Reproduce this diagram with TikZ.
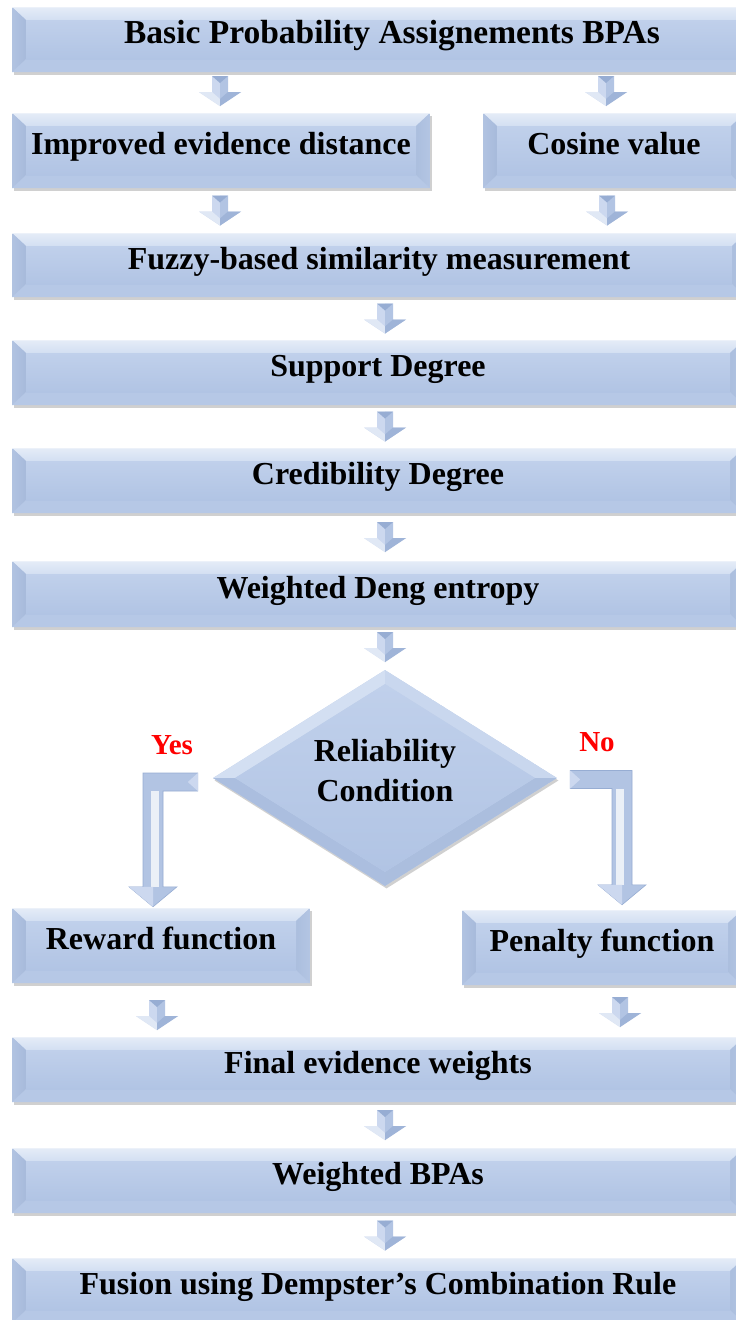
\documentclass[tikz,border=0pt]{standalone}
\usepackage{fontspec}
\setmainfont{Liberation Serif}
\usetikzlibrary{shapes.geometric,calc,shadows}

\definecolor{bxtopc}{HTML}{C0D0EB}
\definecolor{bxbotc}{HTML}{B1C4E4}
\definecolor{bxtop}{HTML}{D3DFF2}
\definecolor{bxbot}{HTML}{B6C8E6}
\definecolor{bxleft}{HTML}{A7BADB}
\definecolor{bxright}{HTML}{ABBEDE}
\definecolor{arlight}{HTML}{CCD8EF}
\definecolor{armid}{HTML}{B2C4E3}
\definecolor{ardark}{HTML}{97ADD3}
\definecolor{yesno}{HTML}{FF0000}

\newcommand\bvx{14pt}
\newcommand\bvy{13pt}
% bevelled faces drawn inside the current node outline
\newcommand\bevelfaces{%
  \coordinate (bvSW) at (path picture bounding box.south west);
  \coordinate (bvNE) at (path picture bounding box.north east);
  \coordinate (bvNW) at (path picture bounding box.north west);
  \coordinate (bvSE) at (path picture bounding box.south east);
  \shade[top color=bxtop!60!white, bottom color=bxtop] (bvNW) -- (bvNE) -- ([xshift=-\bvx,yshift=-\bvy]bvNE) -- ([xshift=\bvx,yshift=-\bvy]bvNW) -- cycle;
  \fill[bxbot] (bvSW) -- (bvSE) -- ([xshift=-\bvx,yshift=\bvy]bvSE) -- ([xshift=\bvx,yshift=\bvy]bvSW) -- cycle;
  \shade[left color=bxleft!60!bxtopc, right color=bxleft] (bvNW) -- ([xshift=\bvx,yshift=-\bvy]bvNW) -- ([xshift=\bvx,yshift=\bvy]bvSW) -- (bvSW) -- cycle;
  \shade[left color=bxright, right color=bxright!60!bxtopc] (bvNE) -- ([xshift=-\bvx,yshift=-\bvy]bvNE) -- ([xshift=-\bvx,yshift=\bvy]bvSE) -- (bvSE) -- cycle;
  \shade[top color=bxtopc, bottom color=bxbotc] ([xshift=\bvx,yshift=-\bvy]bvNW) rectangle ([xshift=-\bvx,yshift=\bvy]bvSE);
  \draw[white!70!bxtopc, line width=1pt] (bvNW) -- (bvNE);
}
% bevelled faces of the decision diamond
\newcommand\diamondfaces{%
  \coordinate (dmN) at (path picture bounding box.north);
  \coordinate (dmS) at (path picture bounding box.south);
  \coordinate (dmW) at (path picture bounding box.west);
  \coordinate (dmE) at (path picture bounding box.east);
  \coordinate (dmn) at ([yshift=-14pt]dmN);
  \coordinate (dms) at ([yshift=14pt]dmS);
  \coordinate (dmw) at ([xshift=22pt]dmW);
  \coordinate (dme) at ([xshift=-22pt]dmE);
  \fill[bxtop] (dmW) -- (dmN) -- (dmn) -- (dmw) -- cycle;
  \fill[bxtop!50!bxtopc] (dmN) -- (dmE) -- (dme) -- (dmn) -- cycle;
  \fill[bxright] (dmE) -- (dmS) -- (dms) -- (dme) -- cycle;
  \fill[bxleft!60!bxbotc] (dmS) -- (dmW) -- (dmw) -- (dms) -- cycle;
  \shade[top color=bxtopc, bottom color=bxbotc] (dmn) -- (dme) -- (dms) -- (dmw) -- cycle;
}

\tikzset{
  bevelbox/.style={rectangle, inner sep=0pt, fill=bxtopc,
    font=\bfseries\fontsize{32}{38}\selectfont, text height=22pt, text depth=14pt,
    drop shadow={shadow xshift=1.5pt, shadow yshift=-2.5pt, opacity=0.3, fill=black!60},
    path picture={\bevelfaces}},
  condbox/.style={diamond, inner sep=0pt, fill=bxtopc,
    minimum width=344pt, minimum height=216pt,
    drop shadow={shadow xshift=1.5pt, shadow yshift=-2.5pt, opacity=0.3, fill=black!60},
    path picture={\diamondfaces}},
  condtxt/.style={font=\bfseries\fontsize{32}{40}\selectfont, align=center, inner sep=0pt},
  branchlbl/.style={font=\bfseries\fontsize{29}{32}\selectfont, text=yesno, inner sep=0pt,
    text height=19pt, text depth=0pt},
  bendfill/.style={fill=armid, draw=ardark, line width=0.6pt, line join=miter},
  blockarrow/.pic={
    \fill[arlight] (-8,-15) -- (0,-15) -- (0,15) -- (-21,1) -- (-8,1) -- cycle;
    \fill[armid] (0,-15) -- (8,-15) -- (8,1) -- (21,1) -- (0,15) -- cycle;
    \fill[ardark] (-8,-15) -- (8,-15) -- (0,-8) -- cycle;
    \fill[arlight!60!white] (-21,1) -- (-8,1) -- (0,8) -- (0,15) -- cycle;
    \fill[ardark!70!armid] (21,1) -- (8,1) -- (0,8) -- (0,15) -- cycle;
  }
}

\begin{document}
\begin{tikzpicture}[x=1pt, y=-1pt]
\fill[white] (0,0) rectangle (736,1320);
\useasboundingbox (0,0) rectangle (736,1320);

% process boxes
\node[bevelbox, minimum width=760pt, minimum height=65pt, font=\bfseries\fontsize{33.5}{38}\selectfont] (b1) at (392,39.5) {Basic Probability Assignements BPAs};
\node[bevelbox, minimum width=418pt, minimum height=75pt] (b2a) at (221,150.5) {Improved evidence distance};
\node[bevelbox, minimum width=262pt, minimum height=75pt] (b2b) at (614,150.5) {Cosine value};
\node[bevelbox, minimum width=734pt, minimum height=64pt] (b3) at (379,265) {Fuzzy-based similarity measurement};
\node[bevelbox, minimum width=732pt, minimum height=65pt] (b4) at (378,372.5) {Support Degree};
\node[bevelbox, minimum width=732pt, minimum height=65pt] (b5) at (378,480.5) {Credibility Degree};
\node[bevelbox, minimum width=732pt, minimum height=66pt] (b6) at (378,594) {Weighted Deng entropy};

% decision
\node[condbox] (cond) at (385,778) {};
\node[condtxt] (condtext) at (385,771) {Reliability\\Condition};
\node[branchlbl] (yes) at (172,744.5) {Yes};
\node[branchlbl] (no) at (597,741.5) {No};

\node[bevelbox, minimum width=298pt, minimum height=75pt] (rew) at (161,945.5) {Reward function};
\node[bevelbox, minimum width=280pt, minimum height=75pt] (pen) at (602,947.5) {Penalty function};
\node[bevelbox, minimum width=732pt, minimum height=65pt] (fin) at (378,1069.5) {Final evidence weights};
\node[bevelbox, minimum width=732pt, minimum height=65pt] (wb) at (378,1180.5) {Weighted BPAs};
\node[bevelbox, minimum width=732pt, minimum height=65pt] (fus) at (378,1290.5) {Fusion using Dempster’s Combination Rule};

% block arrows between the boxes
\pic at ($(b1.south -| b2a.north)!0.5!(b2a.north)+(-1,-1.5)$) {blockarrow};
\pic at ($(b1.south -| b2b.north)!0.5!(b2b.north)+(-8,-1.5)$) {blockarrow};
\pic at ($(b2a.south)!0.5!(b3.north -| b2a.south)+(-1,0)$) {blockarrow};
\pic at ($(b2b.south)!0.5!(b3.north -| b2b.south)+(-7,0)$) {blockarrow};
\pic at ($(b3.south -| cond)!0.5!(b4.north -| cond)$) {blockarrow};
\pic at ($(b4.south -| cond)!0.5!(b5.north -| cond)$) {blockarrow};
\pic at ($(b5.south -| cond)!0.5!(b6.north -| cond)$) {blockarrow};
\pic at ($(b6.south -| cond)!0.5!(cond.north)+(0,-1.5)$) {blockarrow};
\pic at ($(rew.south)!0.5!(fin.north -| rew.south)+(-4,5)$) {blockarrow};
\pic at ($(pen.south)!0.5!(fin.north -| pen.south)+(18,1)$) {blockarrow};
\pic at ($(fin.south -| cond)!0.5!(wb.north -| cond)$) {blockarrow};
\pic at ($(wb.south -| cond)!0.5!(fus.north -| cond)$) {blockarrow};

% bent arrow to the reward branch
\path[bendfill] let \p1=([xshift=-15pt,yshift=-4pt]cond.west), \p2=([xshift=-8pt,yshift=1pt]rew.north) in
  (\x1,{\y1+9pt}) -- ({\x2-10pt},{\y1+9pt}) -- ({\x2-10pt},{\y2+20pt}) -- ({\x2-24pt},{\y2+20pt})
  -- (\x2,\y2) -- ({\x2+24pt},{\y2+20pt}) -- ({\x2+10pt},{\y2+20pt}) -- ({\x2+10pt},{\y1-9pt})
  -- (\x1,{\y1-9pt}) -- cycle;
\fill[white, opacity=0.75] let \p1=([xshift=-15pt,yshift=-4pt]cond.west), \p2=([xshift=-8pt,yshift=1pt]rew.north) in
  ({\x2-2pt},{\y1-9pt}) -- ({\x2+6pt},{\y1-9pt}) -- ({\x2+6pt},{\y2+20pt}) -- ({\x2-2pt},{\y2+20pt}) -- cycle;
\fill[arlight] let \p1=([xshift=-15pt,yshift=-4pt]cond.west), \p2=([xshift=-8pt,yshift=1pt]rew.north) in
  (\x1,{\y1+9pt}) -- ({\x1-10pt},\y1) -- (\x1,{\y1-9pt}) -- cycle;
\fill[arlight] let \p1=([xshift=-15pt,yshift=-4pt]cond.west), \p2=([xshift=-8pt,yshift=1pt]rew.north) in
  ({\x2-24pt},{\y2+20pt}) -- (\x2,\y2) -- (\x2,{\y2+20pt}) -- cycle;

% bent arrow to the penalty branch
\path[bendfill] let \p1=([xshift=13pt,yshift=-1.5pt]cond.east), \p2=([xshift=20pt,yshift=5pt]pen.north) in
  (\x1,{\y1+9pt}) -- ({\x2+10pt},{\y1+9pt}) -- ({\x2+10pt},{\y2+20pt}) -- ({\x2+24pt},{\y2+20pt})
  -- (\x2,\y2) -- ({\x2-24pt},{\y2+20pt}) -- ({\x2-10pt},{\y2+20pt}) -- ({\x2-10pt},{\y1-9pt})
  -- (\x1,{\y1-9pt}) -- cycle;
\fill[white, opacity=0.75] let \p1=([xshift=13pt,yshift=-1.5pt]cond.east), \p2=([xshift=20pt,yshift=5pt]pen.north) in
  ({\x2-6pt},{\y1-9pt}) -- ({\x2+2pt},{\y1-9pt}) -- ({\x2+2pt},{\y2+20pt}) -- ({\x2-6pt},{\y2+20pt}) -- cycle;
\fill[arlight] let \p1=([xshift=13pt,yshift=-1.5pt]cond.east), \p2=([xshift=20pt,yshift=5pt]pen.north) in
  (\x1,{\y1+9pt}) -- ({\x1+10pt},\y1) -- (\x1,{\y1-9pt}) -- cycle;
\fill[arlight] let \p1=([xshift=13pt,yshift=-1.5pt]cond.east), \p2=([xshift=20pt,yshift=5pt]pen.north) in
  ({\x2-24pt},{\y2+20pt}) -- (\x2,\y2) -- (\x2,{\y2+20pt}) -- cycle;
\end{tikzpicture}
\end{document}
